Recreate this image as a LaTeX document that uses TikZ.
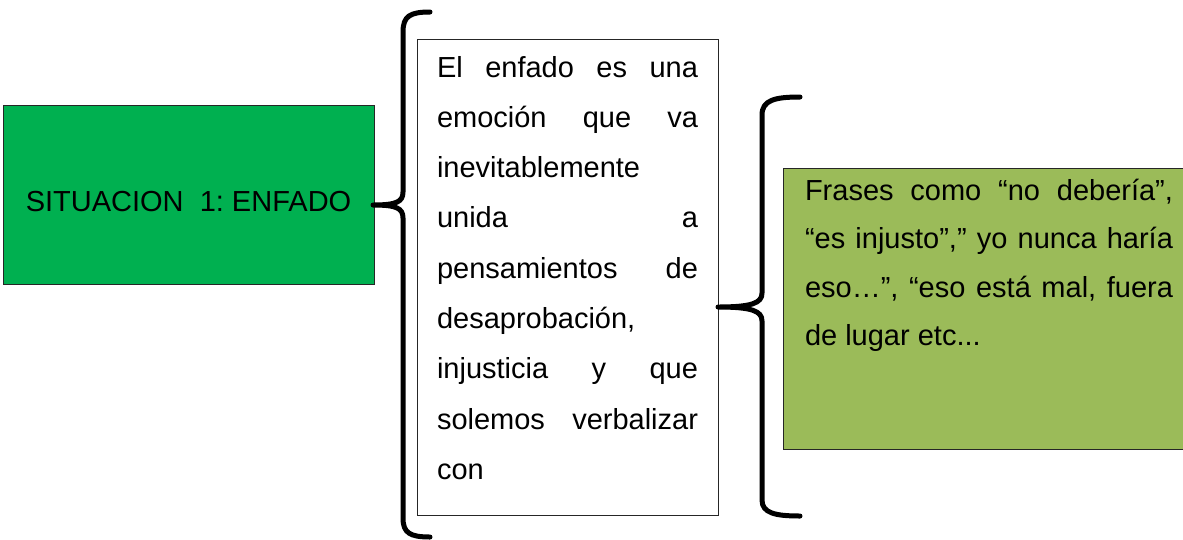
\documentclass[tikz,border=0pt]{standalone}
\usepackage{fontspec}
\setmainfont{Liberation Sans}
\usetikzlibrary{positioning}
\definecolor{sitgreen}{HTML}{00B050}
\definecolor{frasegreen}{HTML}{9BBB59}
\frenchspacing
% one justified line of a box
\newcommand{\jline}[1]{\makebox[\linewidth][s]{#1}}

\begin{document}
\begin{tikzpicture}[x=1pt,y=-1pt,
    box/.style={draw=black!85,line width=1pt,inner ysep=0pt,outer sep=0pt},
    txt/.style={font=\fontsize{29}{50.3}\selectfont},
    bracket/.style={line width=5pt,line cap=round,line join=round,
      preaction={draw=black!22,transform canvas={shift={(1.5pt,-2pt)}}}}]
    \useasboundingbox (0,0) rectangle (1183,539);
    \node[box,fill=sitgreen,inner sep=0pt,minimum width=371pt,minimum height=179pt,
      text height=33pt,text depth=0pt,font=\fontsize{29}{35}\selectfont]
      (sit) at (188.5,194.5) {SITUACION\ \ 1: ENFADO};
    \node[box,fill=white,anchor=north west,inner xsep=20pt,txt] (desc) at (417,39)
      {\parbox[c][476pt][t]{261pt}{\vspace*{17pt}%
        \jline{El enfado es una}\\
        \jline{emoción que va}\\
        inevitablemente\\
        \jline{unida a}\\
        \jline{pensamientos de}\\
        desaprobación,\\
        \jline{injusticia y que}\\
        \jline{solemos verbalizar}\\
        con}};
    \node[box,fill=frasegreen,anchor=north west,inner xsep=22pt,
      font=\fontsize{29}{48.5}\selectfont] (frases) at (783,168)
      {\parbox[c][281pt][t]{368pt}{\vspace*{11pt}%
        \jline{Frases como “no debería”,}\\
        \jline{“es injusto”,” yo nunca haría}\\
        \jline{eso…”, “eso está mal, fuera}\\
        de lugar etc...}};
    % braces
    \draw[bracket] (430,12) .. controls (410,12) and (403,16) .. (403,32)
      -- (403,192) .. controls (403,202) and (396,205) .. (373,205)
      .. controls (396,205) and (403,208) .. (403,218)
      -- (403,518) .. controls (403,533) and (410,537) .. (430,537);
    \draw[bracket] (800,97) .. controls (775,97) and (762,100) .. (762,115)
      -- (762,293) .. controls (762,303) and (752,307) .. (718,307)
      .. controls (752,307) and (762,311) .. (762,321)
      -- (762,500) .. controls (762,513) and (775,516) .. (800,516);
\end{tikzpicture}
\end{document}
